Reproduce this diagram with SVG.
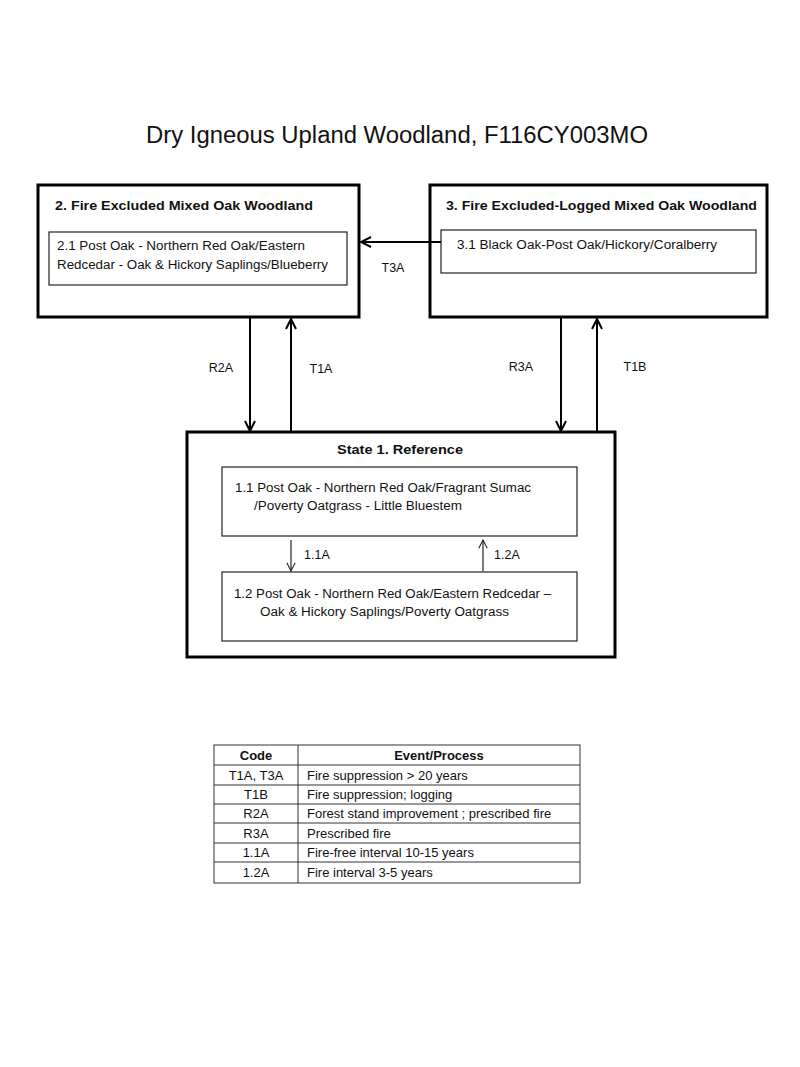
<svg xmlns="http://www.w3.org/2000/svg" width="800" height="1067" viewBox="0 0 800 1067">
<style>
text{font-family:"Liberation Sans",Arial,sans-serif;fill:#111}
.title{font-size:23px}
.hdr{font-size:13.5px;font-weight:bold}
.t{font-size:12.5px}
.tb{font-size:13px}
.state{fill:#fff;stroke:#000;stroke-width:3}
.phase{fill:#fff;stroke:#222;stroke-width:1.2}
.conn{stroke:#000;stroke-width:2;fill:none}
.thin{stroke:#222;stroke-width:1.2;fill:none}
.grid{stroke:#333;stroke-width:1;fill:none}
</style>
<defs>
<marker id="ah" viewBox="0 0 12 12" refX="11" refY="6" markerWidth="12" markerHeight="12" markerUnits="userSpaceOnUse" orient="auto">
<path d="M1,1 L11,6 L1,11" fill="none" stroke="#000" stroke-width="2"/>
</marker>
<marker id="ahs" viewBox="0 0 12 12" refX="11" refY="6" markerWidth="10" markerHeight="10" markerUnits="userSpaceOnUse" orient="auto">
<path d="M1,1 L11,6 L1,11" fill="none" stroke="#222" stroke-width="1.3"/>
</marker>
</defs>
<rect width="800" height="1067" fill="#fff"/>
<text class="title" x="146" y="143" textLength="502" lengthAdjust="spacingAndGlyphs">Dry Igneous Upland Woodland, F116CY003MO</text>

<g id="state2">
<rect class="state" x="38" y="185" width="321" height="132"/>
<text class="hdr" x="55" y="210" textLength="258" lengthAdjust="spacingAndGlyphs">2. Fire Excluded Mixed Oak Woodland</text>
<rect class="phase" x="49" y="232" width="298" height="53"/>
<text class="t" x="57" y="250" textLength="248" lengthAdjust="spacingAndGlyphs">2.1 Post Oak - Northern Red Oak/Eastern</text>
<text class="t" x="57" y="269" textLength="271" lengthAdjust="spacingAndGlyphs">Redcedar - Oak &amp; Hickory Saplings/Blueberry</text>
</g>

<g id="state3">
<rect class="state" x="430" y="185" width="337" height="132"/>
<text class="hdr" x="446" y="210" textLength="311" lengthAdjust="spacingAndGlyphs">3. Fire Excluded-Logged Mixed Oak Woodland</text>
<rect class="phase" x="441" y="230" width="315" height="43"/>
<text class="t" x="457" y="249" textLength="260" lengthAdjust="spacingAndGlyphs">3.1 Black Oak-Post Oak/Hickory/Coralberry</text>
</g>

<g id="state1">
<rect class="state" x="187" y="432" width="428" height="225"/>
<text class="hdr" x="400" y="454" text-anchor="middle" textLength="126" lengthAdjust="spacingAndGlyphs">State 1. Reference</text>
<rect class="phase" x="222" y="467" width="355" height="69"/>
<text class="t" x="235" y="492" textLength="296" lengthAdjust="spacingAndGlyphs">1.1 Post Oak - Northern Red Oak/Fragrant Sumac</text>
<text class="t" x="254" y="510" textLength="208" lengthAdjust="spacingAndGlyphs">/Poverty Oatgrass - Little Bluestem</text>
<rect class="phase" x="222" y="572" width="355" height="69"/>
<text class="t" x="234" y="598" textLength="317" lengthAdjust="spacingAndGlyphs">1.2 Post Oak - Northern Red Oak/Eastern Redcedar –</text>
<text class="t" x="260" y="616" textLength="249" lengthAdjust="spacingAndGlyphs">Oak &amp; Hickory Saplings/Poverty Oatgrass</text>
</g>

<g id="connectors">
<line class="conn" x1="441" y1="242" x2="361" y2="242" marker-end="url(#ah)"/>
<line class="conn" x1="250" y1="318" x2="250" y2="431" marker-end="url(#ah)"/>
<line class="conn" x1="291" y1="431" x2="291" y2="319" marker-end="url(#ah)"/>
<line class="conn" x1="561" y1="318" x2="561" y2="431" marker-end="url(#ah)"/>
<line class="conn" x1="597" y1="431" x2="597" y2="319" marker-end="url(#ah)"/>
<line class="thin" x1="291" y1="540" x2="291" y2="571" marker-end="url(#ahs)"/>
<line class="thin" x1="483" y1="571" x2="483" y2="540" marker-end="url(#ahs)"/>
<text class="t" x="393" y="272" text-anchor="middle">T3A</text>
<text class="t" x="221" y="372" text-anchor="middle">R2A</text>
<text class="t" x="321" y="373" text-anchor="middle">T1A</text>
<text class="t" x="521" y="371" text-anchor="middle">R3A</text>
<text class="t" x="635" y="371" text-anchor="middle">T1B</text>
<text class="t" x="304" y="559">1.1A</text>
<text class="t" x="494" y="559">1.2A</text>
</g>

<g id="legend">
<rect class="grid" x="214" y="745" width="366" height="138"/>
<line class="grid" x1="298" y1="745" x2="298" y2="883"/>
<line class="grid" x1="214" y1="765" x2="580" y2="765"/>
<line class="grid" x1="214" y1="785" x2="580" y2="785"/>
<line class="grid" x1="214" y1="804" x2="580" y2="804"/>
<line class="grid" x1="214" y1="823" x2="580" y2="823"/>
<line class="grid" x1="214" y1="843" x2="580" y2="843"/>
<line class="grid" x1="214" y1="862" x2="580" y2="862"/>
<text class="tb" x="256" y="760" text-anchor="middle" font-weight="bold">Code</text>
<text class="tb" x="439" y="760" text-anchor="middle" font-weight="bold">Event/Process</text>
<text class="tb" x="256" y="780" text-anchor="middle">T1A, T3A</text>
<text class="tb" x="307" y="780">Fire suppression &gt; 20 years</text>
<text class="tb" x="256" y="799" text-anchor="middle">T1B</text>
<text class="tb" x="307" y="799">Fire suppression; logging</text>
<text class="tb" x="256" y="818" text-anchor="middle">R2A</text>
<text class="tb" x="307" y="818">Forest stand improvement  ; prescribed fire</text>
<text class="tb" x="256" y="838" text-anchor="middle">R3A</text>
<text class="tb" x="307" y="838">Prescribed fire</text>
<text class="tb" x="256" y="857" text-anchor="middle">1.1A</text>
<text class="tb" x="307" y="857">Fire-free interval 10-15 years</text>
<text class="tb" x="256" y="877" text-anchor="middle">1.2A</text>
<text class="tb" x="307" y="877">Fire interval 3-5 years</text>
</g>
</svg>
